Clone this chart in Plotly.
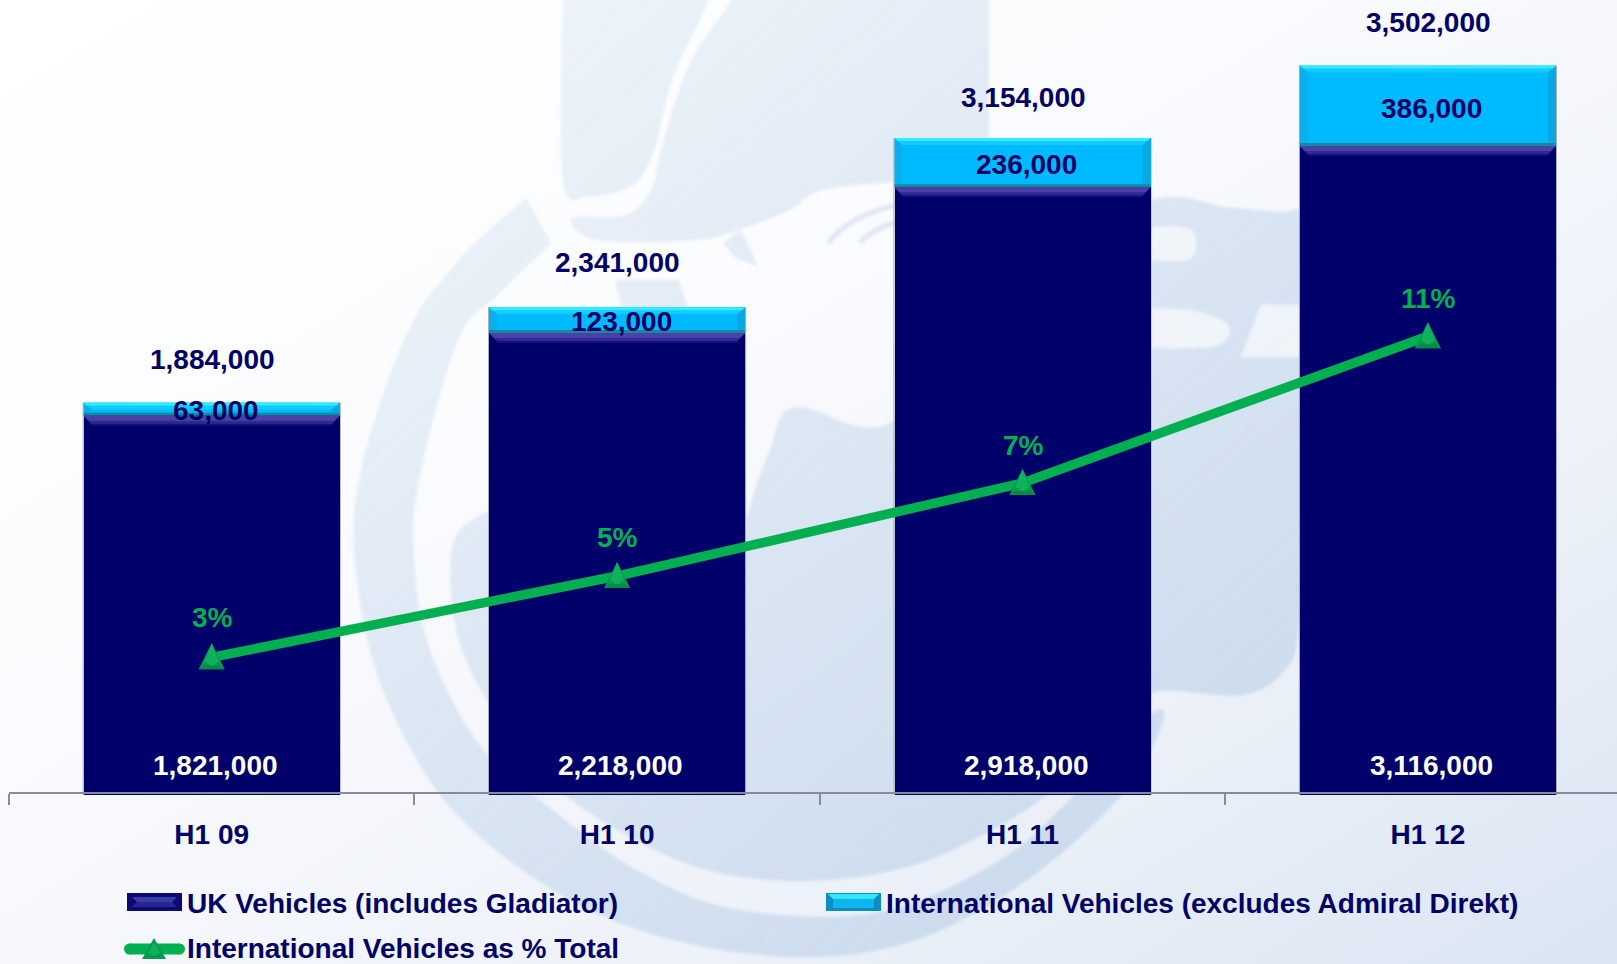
import base64
import plotly.graph_objects as go

# Half-year policy counts
periods = ["H1 09", "H1 10", "H1 11", "H1 12"]
uk_vehicles = [1821000, 2218000, 2918000, 3116000]
intl_vehicles = [63000, 123000, 236000, 386000]
totals = [1884000, 2341000, 3154000, 3502000]
intl_share_pct = [3.3, 5.25, 7.48, 11.0]

NAVY = "#000066"
BAR_NAVY = "#00006a"
CYAN = "#00baff"
GREEN = "#00b050"
FONT = "Liberation Sans, Arial, sans-serif"

W, H = 1617, 964
LEFT, BASE_Y = 9, 795
CAT_STEP = 405.4
Y_MAX = 3816600
Y2_MAX = 19.06
HALF_PX = 128
BAR_W = 2 * HALF_PX / CAT_STEP
PX_PER_UNIT = BASE_Y / Y_MAX

# Vertical room between a bar top and its total label, and between a marker and its percentage
total_lift = [43, 45, 41, 43]
share_lift = [40, 39, 38, 38]
intl_nudge = [-1, -1, -2, -3]


def smooth(points):
    """Catmull-Rom curve through points, as SVG cubic segments."""
    out = []
    n = len(points)
    for i in range(n - 1):
        p0 = points[max(i - 1, 0)]
        p1 = points[i]
        p2 = points[i + 1]
        p3 = points[min(i + 2, n - 1)]
        c1 = (p1[0] + (p2[0] - p0[0]) / 6, p1[1] + (p2[1] - p0[1]) / 6)
        c2 = (p2[0] - (p3[0] - p1[0]) / 6, p2[1] - (p3[1] - p1[1]) / 6)
        out.append(f"C{c1[0]:.1f},{c1[1]:.1f} {c2[0]:.1f},{c2[1]:.1f} {p2[0]:.1f},{p2[1]:.1f}")
    return " ".join(out)


def closed(points):
    return f"M{points[0][0]},{points[0][1]} " + smooth(points) + " Z"


def straight(points):
    return "M" + " L".join(f"{x},{y}" for x, y in points) + " Z"


ring_outer = [(526, 198), (457, 262), (404, 340), (359, 480), (357, 580), (387, 700), (462, 820),
              (600, 915), (760, 955), (900, 945), (1020, 885), (1120, 797), (1162, 725)]
ring_inner = [(1150, 715), (1075, 794), (1000, 860), (880, 912), (740, 910), (640, 872), (540, 800),
              (476, 740), (429, 647), (414, 560), (419, 480), (458, 340), (500, 293), (551, 243)]
disc = [(483, 513), (452, 547), (461, 647), (519, 747), (590, 813), (697, 867), (804, 881), (908, 867),
        (992, 830), (1048, 794), (1110, 740), (1150, 693), (1243, 695), (1285, 670), (1298, 633),
        (1305, 500), (1305, 300), (1305, 216), (1280, 212), (1226, 207), (1150, 200), (1000, 260), (895, 420),
        (795, 407), (770, 450), (747, 517), (730, 600), (620, 545), (530, 505)]
helmet_left = [(563, -5), (563, 180), (590, 196), (633, 185), (654, 150), (672, 80), (700, 20), (711, -5)]
helmet_right = [(736, -5), (697, 50), (679, 90), (661, 150), (651, 190), (626, 215), (572, 218), (597, 240),
                (697, 240), (744, 228), (790, 210), (822, 190), (897, 182), (950, 178), (989, 176)]
helmet_right_path = "M736,-5 " + smooth(helmet_right) + " L989,-5 Z"
chin = [(723, 243), (741, 230), (758, 267), (735, 257)]
neck = [(615, 280), (679, 280), (688, 309), (622, 309)]
cut_square = [(1261, 305), (1305, 305), (1305, 357), (1241, 357)]

svg = f"""<svg xmlns='http://www.w3.org/2000/svg' width='{W}' height='{H}' viewBox='0 0 {W} {H}'>
<defs><linearGradient id='g' x1='0' y1='0' x2='1' y2='1'>
<stop offset='0' stop-color='#ffffff'/><stop offset='0.35' stop-color='#fbfcfe'/>
<stop offset='0.7' stop-color='#eef2f9'/><stop offset='1' stop-color='#dae5f2'/></linearGradient>
<linearGradient id='w' gradientUnits='userSpaceOnUse' x1='350' y1='150' x2='1000' y2='900'>
<stop offset='0' stop-color='#a9c5e2' stop-opacity='0.19'/><stop offset='0.45' stop-color='#a9c5e2' stop-opacity='0.32'/>
<stop offset='1' stop-color='#a9c5e2' stop-opacity='0.46'/></linearGradient>
<filter id='soft' x='-5%' y='-5%' width='110%' height='110%'><feGaussianBlur stdDeviation='1.4'/></filter></defs>
<rect width='{W}' height='{H}' fill='url(#g)'/>
<g filter='url(#soft)'>
<g fill='url(#w)'>
<path d='{closed(ring_outer + ring_inner)}'/><path d='{closed(disc)}'/><path d='{closed(helmet_left)}'/>
<path d='{helmet_right_path}'/><path d='{straight(chin)}'/><path d='{straight(neck)}'/>
</g>
<g fill='#ffffff' fill-opacity='0.62'>
<path d='{closed([(1151, 227), (1191, 230), (1191, 258), (1151, 260)])}'/>
<path d='{closed([(1151, 308), (1200, 312), (1229, 327), (1215, 346), (1151, 348)])}'/>
<path d='{straight(cut_square)}'/>
</g>
<g fill='none' stroke='#dfe8f3' stroke-width='5'>
<path d='M828,243 Q850,215 897,205'/><path d='M860,242 Q875,228 897,222'/>
</g>
</g>
</svg>"""
bg_uri = "data:image/svg+xml;base64," + base64.b64encode(svg.encode()).decode()

fig = go.Figure()
fig.add_trace(go.Bar(name="UK Vehicles (includes Gladiator)", x=periods, y=uk_vehicles,
                     marker=dict(color=BAR_NAVY, line_width=0), width=BAR_W))
fig.add_trace(go.Bar(name="International Vehicles (excludes Admiral Direkt)", x=periods, y=intl_vehicles,
                     marker=dict(color=CYAN, line_width=0), width=BAR_W))
fig.add_trace(go.Scatter(name="International Vehicles as % Total", x=periods, y=intl_share_pct, yaxis="y2",
                         mode="lines", line=dict(color=GREEN, width=9.5)))

shapes = []


def facet(cat, anchor, path, color, yref="y", layer="above"):
    shapes.append(dict(type="path", xref="x", yref=yref, xsizemode="pixel", ysizemode="pixel",
                       xanchor=cat, yanchor=anchor, path=path, fillcolor=color,
                       line_width=0, layer=layer))


for i, cat in enumerate(periods):
    uk_h = uk_vehicles[i] * PX_PER_UNIT
    in_h = intl_vehicles[i] * PX_PER_UNIT
    a, b = HALF_PX, HALF_PX - 8
    # Soft grey edge down both sides of the column
    for s in (-1, 1):
        facet(i, totals[i], f"M{s * a},0 L{s * (a + 1)},0 L{s * (a + 1)},{-(uk_h + in_h)} L{s * a},{-(uk_h + in_h)} Z",
              "#a4a4b4", layer="below")
    # Bevel on the cyan segment
    inner = max(in_h - 3, 8)
    facet(i, totals[i], f"M{-a},0 L{-b},-7 L{-b},{-inner + 1} L{-a},{-inner - 1} Z", "#0ab0ee")
    facet(i, totals[i], f"M{a},0 L{b},-7 L{b},{-inner + 1} L{a},{-inner - 1} Z", "#0aa8e2")
    facet(i, totals[i], f"M{-a},0 L{a},0 L{b},-7 L{-b},-7 Z", "#12ccff")
    facet(i, totals[i], f"M{-a},0 L{a},0 L{a - 3},-3 L{-a + 3},-3 Z", "#33ecff")
    facet(i, uk_vehicles[i], f"M{-a},0 L{a},0 L{a},3 L{-a},3 Z", "#16889f")
    # Bevel at the top of the navy segment
    facet(i, uk_vehicles[i], f"M{-a},0 L{a},0 L{b},-10 L{-b},-10 Z", "#12107c")
    facet(i, uk_vehicles[i], f"M{-a},0 L{a},0 L{a - 8},-8 L{-a + 8},-8 Z", "#2e2a92")
    facet(i, uk_vehicles[i], f"M{-a},0 L{a},0 L{a - 5},-5 L{-a + 5},-5 Z", "#4a40a8")
    # Faceted triangle on the share line
    facet(i, intl_share_pct[i], "M0,14 L13,-12 L-13,-12 Z", "#079a4e", yref="y2")
    facet(i, intl_share_pct[i], "M0,14 L7,-4 L0,-9 L-7,-4 Z", "#0fb25c", yref="y2")
    facet(i, intl_share_pct[i], "M-13,-12 L13,-12 L8,-8 L-8,-8 Z", "#078a46", yref="y2")


def px(x):
    return (x - LEFT) / (W - LEFT)


def py(y):
    return (BASE_Y - y) / BASE_Y


def box(x0, y0, x1, y1, color):
    shapes.append(dict(type="rect", xref="paper", yref="paper", x0=px(x0), x1=px(x1), y0=py(y0), y1=py(y1),
                       fillcolor=color, line_width=0, layer="above"))


def poly(points, color):
    path = "M" + " L".join(f"{px(x):.5f},{py(y):.5f}" for x, y in points) + " Z"
    shapes.append(dict(type="path", xref="paper", yref="paper", path=path, fillcolor=color,
                       line_width=0, layer="above"))


# Legend keys
box(127, 893, 182, 911, "#0a0a70")
poly([(132, 897), (177, 897), (172, 902), (137, 902)], "#3a3aa8")
poly([(137, 902), (172, 902), (177, 907), (132, 907)], "#262692")
box(826, 893, 881, 911, "#0b8fc0")
poly([(828, 894), (879, 894), (874, 899), (833, 899)], "#30e8ff")
box(833, 899, 874, 908, "#0fb4ee")
shapes.append(dict(type="circle", xref="paper", yref="paper", x0=px(124), x1=px(135), y0=py(943.5), y1=py(954.5),
                   fillcolor=GREEN, line_width=0, layer="above"))
shapes.append(dict(type="circle", xref="paper", yref="paper", x0=px(174), x1=px(185), y0=py(943.5), y1=py(954.5),
                   fillcolor=GREEN, line_width=0, layer="above"))
box(129.5, 943.5, 179.5, 954.5, GREEN)
poly([(154, 938), (166, 959), (142, 959)], "#079a4e")
poly([(154, 942), (160, 953), (154, 956), (148, 953)], "#0fb25c")

annotations = []


def note(x, y, text, color, dx=0, dy=0, yref="y"):
    annotations.append(dict(x=x, y=y, xref="x", yref=yref, text=text, showarrow=False, xshift=dx, yshift=dy,
                            xanchor="center", yanchor="middle",
                            font=dict(family=FONT, size=28, color=color)))


for i, cat in enumerate(periods):
    note(cat, totals[i], f"<b>{totals[i]:,}</b>", NAVY, dx=0.5, dy=total_lift[i])
    note(cat, uk_vehicles[i] + intl_vehicles[i] / 2, f"<b>{intl_vehicles[i]:,}</b>", NAVY, dx=4, dy=intl_nudge[i])
    note(cat, 0, f"<b>{uk_vehicles[i]:,}</b>", "#ffffff", dx=3.5, dy=30)
    note(cat, intl_share_pct[i], f"<b>{intl_share_pct[i]:.0f}%</b>", GREEN, dx=0.5, dy=share_lift[i], yref="y2")

legend_labels = [(185, 903, fig.data[0].name), (884, 903, fig.data[1].name), (185, 948.5, fig.data[2].name)]
for x, y, label in legend_labels:
    annotations.append(dict(x=px(x), y=py(y), xref="paper", yref="paper", text=f"<b>{label}</b>", showarrow=False,
                            xanchor="left", yanchor="middle",
                            font=dict(family=FONT, size=28, color=NAVY)))

fig.update_layout(
    width=W, height=H, barmode="stack", showlegend=False,
    margin=dict(l=LEFT, r=0, t=0, b=H - BASE_Y, autoexpand=False),
    paper_bgcolor="white", plot_bgcolor="rgba(0,0,0,0)",
    font=dict(family=FONT, color=NAVY),
    xaxis=dict(type="category", range=[-0.5, (W - LEFT) / CAT_STEP - 0.5], tickson="boundaries", ticks="outside",
               ticklen=11, tickwidth=2, tickcolor="#8a8a9e", showline=True, linecolor="#8a8a9e", linewidth=2,
               showgrid=False, zeroline=False, ticklabelstandoff=16, automargin=False,
               anchor="free", position=2 / BASE_Y, layer="above traces",
               tickfont=dict(family=FONT, size=28, color=NAVY, weight="bold")),
    yaxis=dict(range=[0, Y_MAX], visible=False, fixedrange=True),
    yaxis2=dict(range=[0, Y2_MAX], overlaying="y", side="right", visible=False, fixedrange=True),
    shapes=shapes, annotations=annotations,
    images=[dict(source=bg_uri, xref="paper", yref="paper", x=px(0), y=py(0), sizex=W / (W - LEFT),
                 sizey=H / BASE_Y, sizing="stretch", xanchor="left", yanchor="top", layer="below")],
)

fig.write_html("out.html", config=dict(displayModeBar=False))
